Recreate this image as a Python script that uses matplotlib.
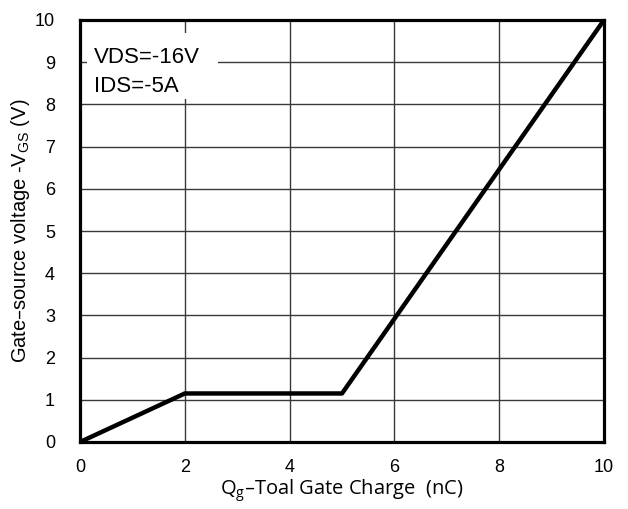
import matplotlib
matplotlib.use("Agg")
import matplotlib.pyplot as plt
from matplotlib.patches import Rectangle

# gate charge curve
qg = [0, 2, 5, 10]
vgs = [0, 1.15, 1.15, 10]
x_ticks = [0, 2, 4, 6, 8, 10]
y_ticks = [0, 1, 2, 3, 4, 5, 6, 7, 8, 9, 10]
note_lines = ['VDS=-16V', 'IDS=-5A']

plt.rcParams['font.family'] = ['Liberation Sans', 'DejaVu Sans']

fig = plt.figure(figsize=(6.28, 5.09), dpi=100)
ax = fig.add_axes([80 / 628, 1 - 442 / 509, 524 / 628, 422 / 509])

ax.plot(qg, vgs, color='black', linewidth=3.2, solid_capstyle='butt', zorder=3)

ax.set_xlim(0, 10)
ax.set_ylim(0, 10)
ax.set_xticks(x_ticks)
ax.set_yticks(y_ticks)
ax.tick_params(axis='both', length=0, labelsize=13)
ax.tick_params(axis='y', pad=18)
ax.tick_params(axis='x', pad=12)
ax.grid(True, color='#3a3a3a', linewidth=1.0)
for s in ax.spines.values():
    s.set_linewidth(2.3)
    s.set_zorder(5)

ax.set_xlabel('Q$_\\mathregular{g}$\u2013Toal Gate Charge  (nC)', fontsize=14.5,
              family=['Open Sans', 'DejaVu Sans'], labelpad=1)
ax.set_ylabel('Gate\u2013source voltage -V$_\\mathregular{GS}$ (V)', fontsize=14.5, labelpad=2)

# white box behind the test conditions
ax.add_patch(Rectangle((0.13, 8.13), 2.5, 1.56, facecolor='white', edgecolor='none', zorder=2))
ax.text(0.27, 8.98, note_lines[0], fontsize=16, va='baseline', ha='left', zorder=4)
ax.text(0.27, 8.29, note_lines[1], fontsize=16, va='baseline', ha='left', zorder=4)

fig.savefig('out.png', dpi=100)
